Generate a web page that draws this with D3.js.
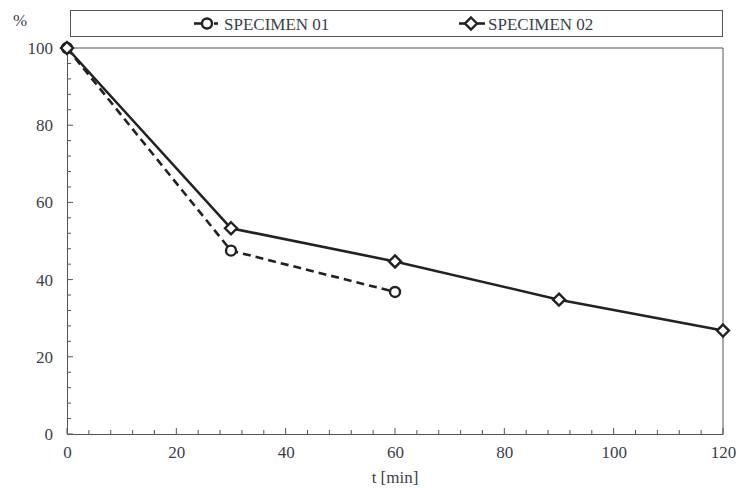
<!DOCTYPE html>
<html>
<head>
<meta charset="utf-8">
<script src="https://cdn.jsdelivr.net/npm/d3@7"></script>
</head>
<body style="margin:0;background:#fff">
<svg id="chart" width="736" height="489" font-family="Liberation Serif"></svg>
<script>
// data
var time01 = [0, 30, 60];
var value01 = [100, 47.5, 36.8];
var time02 = [0, 30, 60, 90, 120];
var value02 = [100, 53.3, 44.7, 34.8, 26.8];
var xTicks = [0, 20, 40, 60, 80, 100, 120];
var yTicks = [0, 20, 40, 60, 80, 100];
var seriesNames = ['SPECIMEN 01', 'SPECIMEN 02'];

var margin = { left: 67, right: 13, top: 48, bottom: 55 };
var W = 736, H = 489;
var FONT = 17;
var SERIF = '"Liberation Serif", "Times New Roman", serif';
var TEXT = '#3a3f4a';
var AXIS = '#555';
var svg = d3.select('#chart');

var x = d3.scaleLinear().domain([0, 120]).range([margin.left, W - margin.right]);
var y = d3.scaleLinear().domain([0, 100]).range([H - margin.bottom, margin.top]);

function txt(sel, size) {
  return sel.attr('font-family', 'Liberation Serif')
    .style('font-family', SERIF, 'important')
    .attr('font-size', size || FONT).attr('fill', TEXT);
}

// frame top and right
svg.append('line').attr('x1', x(0)).attr('x2', x(120)).attr('y1', y(100)).attr('y2', y(100))
  .attr('stroke', AXIS).attr('stroke-width', 1);
svg.append('line').attr('x1', x(120)).attr('x2', x(120)).attr('y1', y(100)).attr('y2', y(0))
  .attr('stroke', AXIS).attr('stroke-width', 1);

// minor ticks every 4 units, inside
var gx = svg.append('g');
d3.range(0, 121, 4).forEach(function (v) {
  var major = v % 20 === 0;
  gx.append('line').attr('x1', x(v)).attr('x2', x(v))
    .attr('y1', y(0)).attr('y2', y(0) - (major ? 6 : 4))
    .attr('stroke', AXIS).attr('stroke-width', 1);
});
var gy = svg.append('g');
d3.range(0, 101, 4).forEach(function (v) {
  var major = v % 20 === 0;
  gy.append('line').attr('x1', x(0)).attr('x2', x(0) + (major ? 6 : 4))
    .attr('y1', y(v)).attr('y2', y(v))
    .attr('stroke', AXIS).attr('stroke-width', 1);
});

// axes
function styleAxis(g) {
  g.attr('font-family', 'Liberation Serif').attr('font-size', FONT);
  g.select('.domain').attr('stroke', AXIS);
  g.selectAll('text').call(txt);
}
svg.append('g').attr('transform', 'translate(0,' + y(0) + ')')
  .call(d3.axisBottom(x).tickValues(xTicks).tickSize(0).tickPadding(12))
  .call(styleAxis);
svg.append('g').attr('transform', 'translate(' + x(0) + ',0)')
  .call(d3.axisLeft(y).tickValues(yTicks).tickSize(0).tickPadding(14))
  .call(styleAxis);

// axis titles
txt(svg.append('text').attr('x', 20).attr('y', 26).attr('text-anchor', 'middle')).text('%');
txt(svg.append('text').attr('x', (x(0) + x(120)) / 2).attr('y', 483).attr('text-anchor', 'middle'), 17)
  .text('t [min]');

// lines
var line = d3.line().x(function (d) { return x(d[0]); }).y(function (d) { return y(d[1]); });
var pts01 = d3.zip(time01, value01);
var pts02 = d3.zip(time02, value02);

svg.append('path').datum(pts01).attr('d', line).attr('fill', 'none')
  .attr('stroke', '#222').attr('stroke-width', 2.6).attr('stroke-dasharray', '8,5');
svg.append('path').datum(pts02).attr('d', line).attr('fill', 'none')
  .attr('stroke', '#222').attr('stroke-width', 2.6);

function diamond(g, cx, cy) {
  var s = 6;
  g.append('path')
    .attr('d', 'M' + cx + ',' + (cy - s) + 'L' + (cx + s) + ',' + cy + 'L' + cx + ',' + (cy + s) + 'L' + (cx - s) + ',' + cy + 'Z')
    .attr('fill', '#fff').attr('stroke', '#222').attr('stroke-width', 2.4);
}
function circle(g, cx, cy) {
  g.append('circle').attr('cx', cx).attr('cy', cy).attr('r', 5)
    .attr('fill', '#fff').attr('stroke', '#222').attr('stroke-width', 2.4);
}

var marks = svg.append('g');
pts01.forEach(function (p) { circle(marks, x(p[0]), y(p[1])); });
pts02.forEach(function (p) { diamond(marks, x(p[0]), y(p[1])); });

// legend
var leg = svg.append('g');
leg.append('rect').attr('x', 70.5).attr('y', 10.5).attr('width', 652).attr('height', 26)
  .attr('fill', '#fff').attr('stroke', AXIS).attr('stroke-width', 1);
leg.append('line').attr('x1', 194).attr('x2', 201).attr('y1', 23.5).attr('y2', 23.5)
  .attr('stroke', '#222').attr('stroke-width', 2.6);
leg.append('line').attr('x1', 214).attr('x2', 218).attr('y1', 23.5).attr('y2', 23.5)
  .attr('stroke', '#222').attr('stroke-width', 2.6);
circle(leg, 207, 23.5);
txt(leg.append('text').attr('x', 224).attr('y', 29.5)).text(seriesNames[0]);
leg.append('line').attr('x1', 459).attr('x2', 485).attr('y1', 23.5).attr('y2', 23.5)
  .attr('stroke', '#222').attr('stroke-width', 2.6);
diamond(leg, 471, 23.5);
txt(leg.append('text').attr('x', 488).attr('y', 29.5)).text(seriesNames[1]);
</script>
</body>
</html>
